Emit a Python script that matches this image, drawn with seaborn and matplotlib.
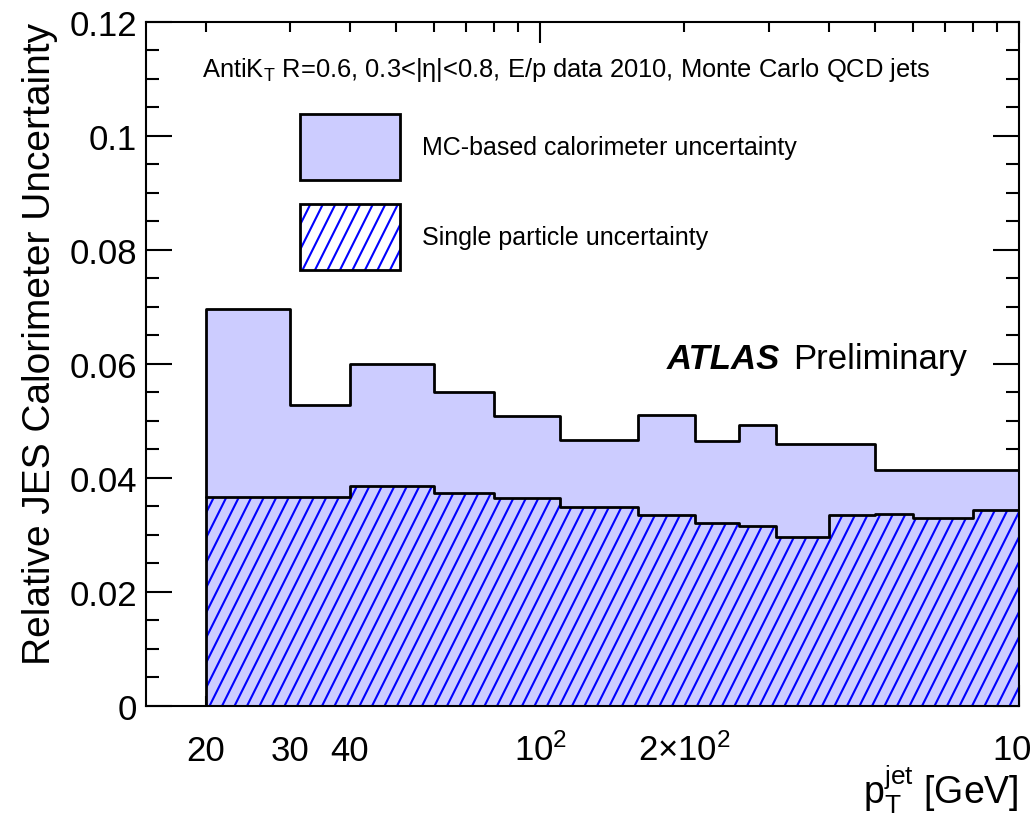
import numpy as np
import matplotlib
matplotlib.use("Agg")
import matplotlib.pyplot as plt
import matplotlib.hatch as mhatch
from matplotlib.path import Path
from matplotlib.patches import Patch
from matplotlib.legend_handler import HandlerTuple
from matplotlib.ticker import FixedLocator, FuncFormatter, MultipleLocator
import seaborn as sns

# ---------------- data ----------------
bin_edges = [20, 30, 40, 60, 80, 110, 160, 210, 260, 310, 400, 500, 600, 800, 1000]
mc_calo_unc = [0.0697, 0.0527, 0.0599, 0.0550, 0.0508, 0.0466, 0.0510, 0.0465,
               0.0492, 0.0460, 0.0460, 0.0414, 0.0414, 0.0414]
single_particle_unc = [0.0367, 0.0366, 0.0385, 0.0373, 0.0364, 0.0349, 0.0334, 0.0321,
                       0.0315, 0.0296, 0.0334, 0.0336, 0.0330, 0.0344]
x_major_ticks = [100, 1000]
x_minor_ticks = [20, 30, 40, 50, 60, 70, 80, 90, 200, 300, 400, 500, 600, 700, 800, 900]
x_tick_labels = {20: "20", 30: "30", 40: "40",
                 100: r"$\mathregular{10^{2}}$",
                 200: r"$\mathregular{2{\times}10^{2}}$",
                 1000: r"$\mathregular{10^{3}}$"}
legend_labels = ["MC-based calorimeter uncertainty", "Single particle uncertainty"]


# steeper "/" hatch, like the ROOT fill style
class SteepHatch(mhatch.HatchPatternBase):
    def __init__(self, hatch, density):
        self.nlines = 8 * hatch.count('/')
        if self.nlines:
            self.ks = np.arange(-self.nlines // 2 - 1, self.nlines + 1)
            self.num_vertices = len(self.ks) * 2
        else:
            self.num_vertices = 0

    def set_vertices_and_codes(self, vertices, codes):
        s = 1.0 / self.nlines
        x0 = self.ks * s
        vertices[0::2, 0] = x0
        vertices[0::2, 1] = 0.0
        vertices[1::2, 0] = x0 + 0.5
        vertices[1::2, 1] = 1.0
        codes[0::2] = Path.MOVETO
        codes[1::2] = Path.LINETO


mhatch._hatch_types[mhatch._hatch_types.index(mhatch.NorthEastHatch)] = SteepHatch

sns.set_style("ticks")
plt.rcParams['font.family'] = ['Liberation Sans', 'DejaVu Sans']
plt.rcParams['mathtext.fontset'] = 'custom'
plt.rcParams['mathtext.rm'] = 'Liberation Sans'
plt.rcParams['mathtext.it'] = 'Liberation Sans:italic'
plt.rcParams['mathtext.bf'] = 'Liberation Sans:bold'
plt.rcParams['mathtext.sf'] = 'Liberation Sans'
plt.rcParams['hatch.linewidth'] = 1.5
for key in ['text.color', 'axes.labelcolor', 'xtick.color', 'ytick.color',
            'xtick.labelcolor', 'ytick.labelcolor', 'axes.edgecolor']:
    plt.rcParams[key] = 'black'

LAV = '#ccccff'
BLUE = '#0000ff'

fig = plt.figure(figsize=(10.31, 8.20), dpi=100)
ax = fig.add_axes([146 / 1031, 1 - 706.7 / 820, 873 / 1031, 683.7 / 820])

edges = np.array(bin_edges, dtype=float)
centers = np.sqrt(edges[:-1] * edges[1:])

# MC-based calorimeter uncertainty (filled)
sns.histplot(x=centers, weights=mc_calo_unc, bins=bin_edges, element="step", fill=True,
             color=LAV, facecolor=LAV, edgecolor='none', linewidth=0, ax=ax, zorder=1)
# single particle uncertainty (hatched)
sns.histplot(x=centers, weights=single_particle_unc, bins=bin_edges, element="step", fill=True,
             color=BLUE, facecolor='none', edgecolor=BLUE, linewidth=0, hatch='/', ax=ax, zorder=2)
# outlines
sns.histplot(x=centers, weights=mc_calo_unc, bins=bin_edges, element="step", fill=True,
             color='black', facecolor='none', edgecolor='black', linewidth=2, ax=ax, zorder=3)
sns.histplot(x=centers, weights=single_particle_unc, bins=bin_edges, element="step", fill=False,
             color='black', linewidth=2, ax=ax, zorder=3)

ax.set_xscale('log')
ax.set_xlim(15, 1000)
ax.set_ylim(0, 0.12)

# ticks
ax.xaxis.set_major_locator(FixedLocator(x_major_ticks))
ax.xaxis.set_minor_locator(FixedLocator(x_minor_ticks))
fmt = FuncFormatter(lambda v, p: x_tick_labels.get(int(round(v)), ""))
ax.xaxis.set_major_formatter(fmt)
ax.xaxis.set_minor_formatter(fmt)
ax.yaxis.set_major_locator(MultipleLocator(0.02))
ax.yaxis.set_minor_locator(MultipleLocator(0.005))
ax.yaxis.set_major_formatter(FuncFormatter(lambda v, p: "%g" % round(v, 4)))

ax.tick_params(which='both', direction='in', top=True, right=True, width=1.5,
               color='black', labelcolor='black')
ax.tick_params(axis='x', which='major', length=14.8, labelsize=25, pad=38.9)
ax.tick_params(axis='x', which='minor', length=7.2, labelsize=25, pad=38.9)
ax.tick_params(axis='y', which='major', length=18.7, labelsize=25, pad=6.5)
ax.tick_params(axis='y', which='minor', length=9.4)
for t in ax.xaxis.get_major_ticks() + ax.xaxis.get_minor_ticks():
    t.label1.set_va('baseline')

for s in ax.spines.values():
    s.set_linewidth(1.5)
    s.set_color('black')
    s.set_visible(True)

ax.set_ylabel('Relative JES Calorimeter Uncertainty', loc='top', fontsize=28, labelpad=8,
              color='black')
ax.set_xlabel(r'$\mathregular{p_{T}^{jet}}$ [GeV]', loc='right', fontsize=27, labelpad=-3,
              color='black')

# annotations
ax.text(0.0638, 0.9214,
        r'AntiK$_{\mathregular{T}}$ R=0.6, 0.3<|η|<0.8, E/p data 2010, Monte Carlo QCD jets',
        transform=ax.transAxes, fontsize=18.4, va='baseline', ha='left', color='black')
ax.text(0.5965, 0.4935, 'ATLAS', transform=ax.transAxes, fontsize=25,
        fontweight='bold', fontstyle='italic', va='baseline', ha='left', color='black')
ax.text(0.7415, 0.4935, 'Preliminary', transform=ax.transAxes, fontsize=25,
        va='baseline', ha='left', color='black')

# legend
h_mc = Patch(facecolor=LAV, edgecolor='black', linewidth=2)
h_sp = (Patch(facecolor='white', edgecolor=BLUE, linewidth=0, hatch='/'),
        Patch(facecolor='none', edgecolor='black', linewidth=2))
leg = ax.legend([h_mc, h_sp], legend_labels, loc='upper left',
                bbox_to_anchor=(0.1764, 0.8654), bbox_transform=ax.transAxes,
                frameon=False, fontsize=18, handlelength=4.0, handleheight=3.68,
                handletextpad=0.88, labelspacing=0.96, borderpad=0, borderaxespad=0,
                handler_map={tuple: HandlerTuple(ndivide=1, pad=0)})
for txt in leg.get_texts():
    txt.set_color('black')

fig.savefig('out.png', dpi=100)
